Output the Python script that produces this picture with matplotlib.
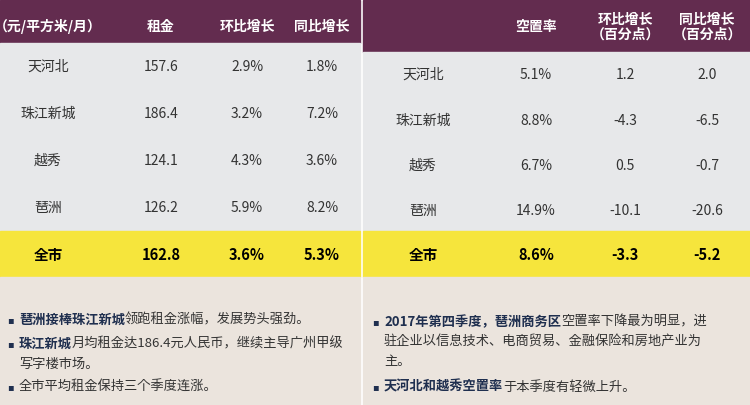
import matplotlib
matplotlib.use("Agg")
import matplotlib.pyplot as plt
from matplotlib.patches import Rectangle
from matplotlib import font_manager as fm

cands = [f for f in fm.findSystemFonts() if "CJK" in f or "cjk" in f.lower()]
for f in cands:
    try:
        fm.fontManager.addfont(f)
    except Exception:
        pass
names = sorted({fm.FontProperties(fname=f).get_name() for f in cands})
pref = [n for n in ["Noto Sans CJK SC", "Noto Sans CJK JP", "Noto Sans CJK TC", "Noto Sans CJK KR"] if n in names] + names
plt.rcParams["font.family"] = "sans-serif"
plt.rcParams["font.sans-serif"] = pref + ["DejaVu Sans"]

left_header = ["（元/平方米/月）", "租金", "环比增长", "同比增长"]
districts = ["天河北", "珠江新城", "越秀", "琶洲"]
rent = ["157.6", "186.4", "124.1", "126.2"]
rent_qoq = ["2.9%", "3.2%", "4.3%", "5.9%"]
rent_yoy = ["1.8%", "7.2%", "3.6%", "8.2%"]
city_left = ["全市", "162.8", "3.6%", "5.3%"]

right_header = ["", "空置率", "环比增长\n（百分点）", "同比增长\n（百分点）"]
vacancy = ["5.1%", "8.8%", "6.7%", "14.9%"]
vac_qoq = ["1.2", "-4.3", "0.5", "-10.1"]
vac_yoy = ["2.0", "-6.5", "-0.7", "-20.6"]
city_right = ["全市", "8.6%", "-3.3", "-5.2"]

PURPLE = "#632c4f"
GRAY = "#e7e8ea"
YELLOW = "#f6e53c"
BEIGE = "#ebe4dd"
NAVY = "#1f2f4f"
TXT = "#333333"
FS = 10

fig = plt.figure(figsize=(7.5, 4.05), dpi=100)
ax = fig.add_axes([0, 0, 1, 1])
ax.set_xlim(0, 750); ax.set_ylim(405, 0); ax.axis("off")

ax.add_patch(Rectangle((0, 0), 360, 43, color=PURPLE))
ax.add_patch(Rectangle((0, 43), 360, 188, color=GRAY))
ax.add_patch(Rectangle((0, 231), 360, 46, color=YELLOW))
ax.add_patch(Rectangle((0, 277), 360, 128, color=BEIGE))
ax.add_patch(Rectangle((363, 0), 387, 52, color=PURPLE))
ax.add_patch(Rectangle((363, 52), 387, 179, color=GRAY))
ax.add_patch(Rectangle((363, 231), 387, 46, color=YELLOW))
ax.add_patch(Rectangle((363, 277), 387, 128, color=BEIGE))

lx = [48, 161, 247, 322]
for x, h in zip(lx, left_header):
    ax.text(x, 27, h, color="white", fontsize=FS, fontweight="bold", ha="center", va="center")
ly = [67, 114, 161, 208]
for i in range(4):
    for x, v in zip(lx, [districts[i], rent[i], rent_qoq[i], rent_yoy[i]]):
        ax.text(x, ly[i], v, color=TXT, fontsize=FS, ha="center", va="center")
for x, v in zip(lx, city_left):
    ax.text(x, 255, v, color="black", fontsize=FS + 0.5, fontweight="bold", ha="center", va="center")

rx = [423, 536, 625, 707]
for x, h in zip(rx, right_header):
    if h:
        ax.text(x, 27, h, color="white", fontsize=FS, fontweight="bold", ha="center",
                va="center", linespacing=1.05)
ry = [75, 121, 166, 211]
for i in range(4):
    for x, v in zip(rx, [districts[i], vacancy[i], vac_qoq[i], vac_yoy[i]]):
        ax.text(x, ry[i], v, color=TXT, fontsize=FS, ha="center", va="center")
for x, v in zip(rx, city_right):
    ax.text(x, 255, v, color="black", fontsize=FS + 0.5, fontweight="bold", ha="center", va="center")

BF = 9.5
def bullet(x, y, parts):
    ax.text(x, y, "▪", color=NAVY, fontsize=7, ha="left", va="center", family="DejaVu Sans")
    t = None
    xx = x + 12
    for s, bold in parts:
        kw = dict(color=NAVY if bold else TXT, fontsize=BF,
                  fontweight="bold" if bold else "normal", va="center", ha="left")
        if t is None:
            t = ax.text(xx, y, s, **kw)
        else:
            t = ax.annotate(s, xycoords=t, xy=(1, 0.5), **kw)

bullet(7, 320, [("琶洲接棒珠江新城", True), ("领跑租金涨幅，发展势头强劲。", False)])
bullet(7, 344, [("珠江新城", True), ("月均租金达186.4元人民币，继续主导广州甲级", False)])
ax.text(19, 364, "写字楼市场。", color=TXT, fontsize=BF, ha="left", va="center")
bullet(7, 387, [("全市平均租金保持三个季度连涨。", False)])

bullet(372, 322, [("2017年第四季度，琶洲商务区", True), ("空置率下降最为明显，进", False)])
ax.text(384, 342, "驻企业以信息技术、电商贸易、金融保险和房地产业为", color=TXT, fontsize=BF, ha="left", va="center")
ax.text(384, 362, "主。", color=TXT, fontsize=BF, ha="left", va="center")
bullet(372, 387, [("天河北和越秀空置率", True), ("于本季度有轻微上升。", False)])

fig.savefig("out.png", dpi=100)
